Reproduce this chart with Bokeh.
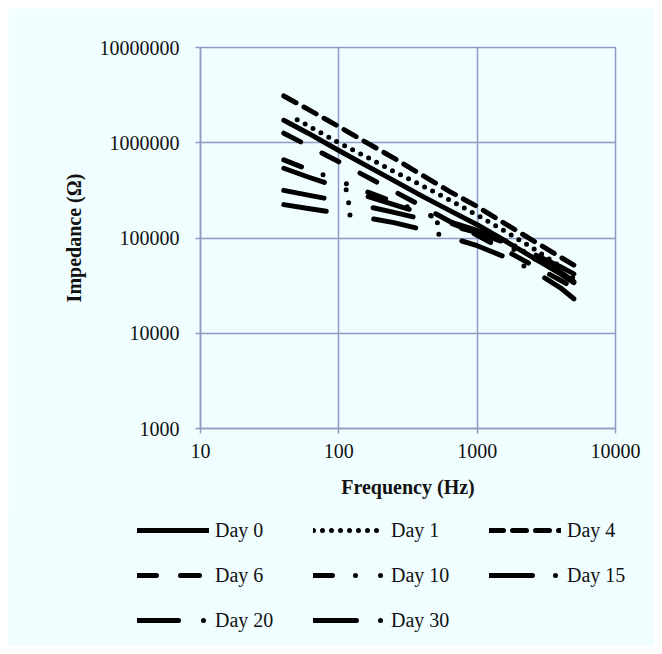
from bokeh.plotting import figure
from bokeh.models import FixedTicker, NumeralTickFormatter, Legend, LegendItem, Range1d
from bokeh.embed import file_html
from bokeh.resources import INLINE

# ---- data ----
freq = [40, 60, 100, 150, 250, 400, 630, 1000, 1600, 2500, 4000, 5000]

day0 = [1720000, 1260000, 830000, 600000, 400000, 275000, 195000, 138000, 93000, 63000, 42000, 34000]
day1_freq = [50, 60, 100, 150, 250, 400, 630, 1000, 1600, 2500, 4000]
day1 = [1740000, 1510000, 1000000, 740000, 500000, 355000, 251000, 174000, 117000, 79000, 50000]
day4 = [3100000, 2240000, 1480000, 1050000, 690000, 457000, 309000, 214000, 141000, 95000, 63000, 52000]
day6 = [1260000, 930000, 630000, 460000, 310000, 215000, 150000, 107000, 74000, 52000, 36000, 30000]
day10 = [660000, 525000, 400000, 316000, 240000, 186000, 145000, 112000, 83000, 62000, 45000, 38000]
day15 = [540000, 437000, 340000, 282000, 224000, 182000, 148000, 120000, 91000, 69000, 50000, 42000]
day20 = [316000, 282000, 245000, 219000, 186000, 158000, 135000, 115000, 89000, 66000, 44000, 35000]
day30 = [224000, 204000, 182000, 166000, 145000, 123000, 102000, 83000, 63000, 46000, 30000, 23000]

labels = ["Day 0", "Day 1", "Day 4", "Day 6", "Day 10", "Day 15", "Day 20", "Day 30"]
x_ticks = [10, 100, 1000, 10000]
y_ticks = [1000, 10000, 100000, 1000000, 10000000]

# ---- styling ----
BG = "#F0FEFF"
GRID = "#8E9BC2"
FONT = "Liberation Serif"
dashes = ["solid", "0 9", "14 9", "19 24", "19 23 0 25 0 23",
          "43 23 0 23", "41 25 0 25", "43 24 0 24"]

p = figure(width=646, height=500, x_axis_type="log", y_axis_type="log",
           x_range=(10, 10000), y_range=(1000, 10000000),
           output_backend="svg", toolbar_location=None,
           background_fill_color=BG, border_fill_color=BG,
           min_border_left=192, min_border_right=39,
           min_border_top=39, min_border_bottom=80)
p.margin = (8, 8, 0, 8)
p.outline_line_color = GRID
p.outline_line_width = 1.5

p.xaxis.ticker = FixedTicker(ticks=x_ticks)
p.yaxis.ticker = FixedTicker(ticks=y_ticks)
p.xaxis.formatter = NumeralTickFormatter(format="0")
p.yaxis.formatter = NumeralTickFormatter(format="0")
for ax in (p.xaxis[0], p.yaxis[0]):
    ax.axis_line_color = GRID
    ax.axis_line_width = 1.5
    ax.major_tick_line_color = GRID
    ax.major_tick_line_width = 1.5
    ax.major_tick_out = 5
    ax.major_tick_in = 0
    ax.minor_tick_line_color = None
    ax.major_label_text_font = FONT
    ax.major_label_text_font_size = "20px"
    ax.major_label_text_color = "#111111"
    ax.axis_label_text_font = FONT
    ax.axis_label_text_font_size = "20px"
    ax.axis_label_text_font_style = "bold"
    ax.axis_label_text_color = "#111111"
p.xaxis.axis_label = "Frequency (Hz)"
p.yaxis.axis_label = "Impedance (Ω)"
p.xaxis.major_label_standoff = 10
p.yaxis.major_label_standoff = 16
p.xaxis.axis_label_standoff = 15
p.yaxis.axis_label_standoff = 12

p.xgrid.grid_line_color = GRID
p.ygrid.grid_line_color = GRID
p.xgrid.grid_line_width = 1.5
p.ygrid.grid_line_width = 1.5

xs_list = [freq, day1_freq, freq, freq, freq, freq, freq, freq]
series = [day0, day1, day4, day6, day10, day15, day20, day30]
for xs, ys, dash in zip(xs_list, series, dashes):
    p.line(xs, ys, line_color="black", line_width=5, line_dash=dash,
           line_cap="round", line_join="round")

# ---- legend panel below the chart (its lines are off-view; only the legend shows) ----
lp = figure(width=646, height=138, output_backend="svg", toolbar_location=None,
            x_range=Range1d(0, 1), y_range=Range1d(0, 1),
            background_fill_color=BG, border_fill_color=BG,
            min_border_left=0, min_border_right=0, min_border_top=0, min_border_bottom=0)
lp.margin = (0, 8, 8, 8)
lp.axis.visible = False
lp.grid.visible = False
lp.outline_line_color = None
leg_renderers = []
for xs, ys, dash in zip(xs_list, series, dashes):
    r = lp.line(xs, ys, line_color="black", line_width=5, line_dash=dash,
                line_cap="round", line_join="round")
    leg_renderers.append(r)

legend = Legend(items=[LegendItem(label=l, renderers=[r]) for l, r in zip(labels, leg_renderers)],
                location=(129, 11), orientation="horizontal", ncols=3,
                glyph_width=72, glyph_height=30, label_height=30, label_width=83,
                label_standoff=6, spacing=15, padding=0, margin=0,
                border_line_color=None, background_fill_alpha=0,
                label_text_font=FONT, label_text_font_size="20px",
                label_text_color="#111111")
lp.add_layout(legend, "center")

open("out.html", "w").write(file_html([p, lp], INLINE))
